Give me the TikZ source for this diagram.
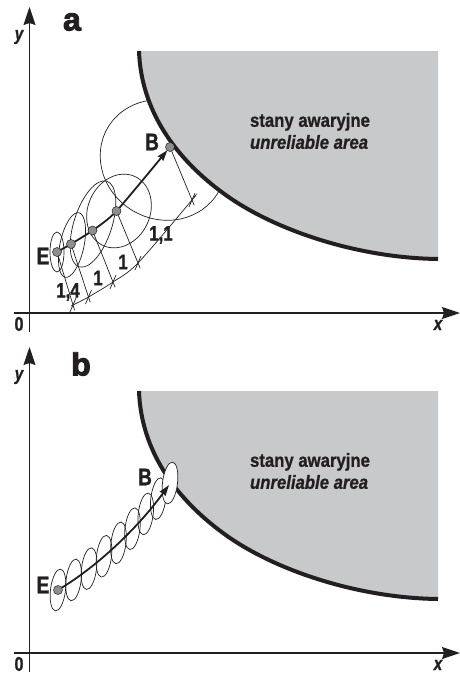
\documentclass[tikz,border=0pt]{standalone}
\usepackage{fontspec}
\setmainfont{Liberation Sans}
\newfontfamily\cond[FakeStretch=0.8,FakeBold=1.2]{Liberation Sans}
\newfontfamily\areafont[FakeStretch=0.88,FakeBold=0.8]{Liberation Sans}
\newfontfamily\heavy[FakeBold=3]{Liberation Sans}
\usetikzlibrary{arrows.meta,calc,shapes.geometric}
\definecolor{ink}{HTML}{231F20}
\definecolor{area}{HTML}{C8C9CB}
\definecolor{dotgray}{HTML}{8C8E90}
\tikzset{
  axisline/.style={line width=1.4pt, draw=ink, -{Stealth[length=18pt,width=12pt,inset=2pt]}},
  bound/.style={line width=4pt, draw=ink},
  thinline/.style={line width=0.7pt, draw=ink},
  dotnode/.style={circle, fill=dotgray, draw=ink, line width=0.5pt, inner sep=0pt, minimum size=9pt},
  traj/.style={line width=1.8pt, draw=ink, -{Stealth[length=11pt,width=7pt,inset=1pt]}},
  lbl/.style={font=\cond\bfseries\fontsize{24}{24}\selectfont, text=ink, inner sep=0pt},
  num/.style={font=\cond\bfseries\fontsize{21}{21}\selectfont, text=ink, inner sep=0pt},
  axlbl/.style={font=\cond\bfseries\itshape\fontsize{19}{19}\selectfont, text=ink, inner sep=0pt},
  zerolbl/.style={font=\cond\bfseries\fontsize{20}{20}\selectfont, text=ink, inner sep=0pt},
  panellbl/.style={font=\heavy\bfseries\fontsize{32}{32}\selectfont, text=ink, inner sep=0pt},
  areatxt/.style={font=\areafont\bfseries\fontsize{19}{22}\selectfont, text=ink, align=left, inner sep=0pt},
  bell/.style={ellipse, draw=ink, line width=0.7pt, minimum width=15pt, minimum height=42pt, inner sep=0pt, rotate=-7},
}
\newcommand{\axesframe}[1]{%
  \draw[axisline] (29.5,332) -- (29.5,7);
  \draw[axisline] (14,313) -- (460,313);
  \node[axlbl] (ylab#1) at (19,37) {y};
  \node[axlbl] (xlab#1) at (438,325) {x};
  \node[zerolbl] (zero#1) at (19,324) {0};
}
\newcommand{\failarea}[1]{%
  \fill[area] (139,51) .. controls (141,110) and (175,160) .. (230,198)
     .. controls (280,232) and (360,258) .. (438,259) -- (438,51) -- cycle;
  \draw[bound] (139,51) .. controls (141,110) and (175,160) .. (230,198)
     .. controls (280,232) and (360,258) .. (438,259);
  \node[areatxt] (txt#1) at (310,131) {stany awaryjne\\\itshape unreliable area};
}
\begin{document}
\begin{tikzpicture}[x=1pt,y=-1pt]
\useasboundingbox (0,0) rectangle (460,675);

% ---------------- panel a ----------------
\begin{scope}
  \axesframe{a}
  \node[panellbl] (la) at (72,22) {a};
  \coordinate (cE) at (57,252);
  \coordinate (c2) at (71,244);
  \coordinate (c3) at (92.5,230.5);
  \coordinate (c4) at (116.5,211);
  \coordinate (cB) at (170,147);
  % ellipses
  \draw[thinline] (cE) ellipse [x radius=7pt, y radius=20pt];
  \draw[thinline, rotate around={-12:(72,245)}] (72,245) ellipse [x radius=12pt, y radius=33pt];
  \draw[thinline, rotate around={-18:(93,224)}] (93,224) ellipse [x radius=19pt, y radius=45pt];
  \draw[thinline, rotate around={-25:(119,211)}] (119,211) ellipse [x radius=31pt, y radius=38pt];
  \draw[thinline, rotate around={-30:(163,160)}] (163,160) ellipse [x radius=64pt, y radius=59pt];
  % dimension lines
  \coordinate (x1) at (73,305);
  \coordinate (x2) at (88.5,297);
  \coordinate (x3) at (113,282);
  \coordinate (x4) at (138,263);
  \coordinate (x5) at (192,200);
  \foreach \p/\q in {cE/x1, c2/x2, c3/x3, c4/x4, cB/x5}{
    \draw[thinline] (\p) -- ($(\p)!1.1!(\q)$);
    \draw[thinline] ($(\q)+(-3,7)$) -- ($(\q)+(3,-7)$);
  }
  \draw[thinline] plot[smooth, tension=0.5] coordinates {(71,306) (x1) (x2) (x3) (x4) (x5) (194,197)};
  \node[num] (n1) at (68,292) {1,4};
  \node[num] (n2) at (98,278) {1};
  \node[num] (n3) at (123,262) {1};
  \node[num] (n4) at (161,235) {1,1};
  \failarea{a}
  \draw[traj, shorten >=4pt] plot[smooth, tension=0.4] coordinates {(cE) (c2) (c3) (c4) (cB)};
  \node[dotnode] (Ea) at (cE) {};
  \node[dotnode] (p2) at (c2) {};
  \node[dotnode] (p3) at (c3) {};
  \node[dotnode] (p4) at (c4) {};
  \node[dotnode] (Ba) at (cB) {};
  \node[lbl] (Ela) at (43,256) {E};
  \node[lbl] (Bla) at (152,142) {B};
\end{scope}

% ---------------- panel b ----------------
\begin{scope}[shift={(0,340)}]
  \axesframe{b}
  \node[panellbl] (lb) at (81,24) {b};
  \failarea{b}
  \coordinate (bE) at (58,250);
  \coordinate (bB) at (170,143);
  \path (bE) .. controls (100,225) and (140,185) .. (bB)
    node[bell, pos=0] (e1) {}
    node[bell, pos=0.125] (e2) {}
    node[bell, pos=0.25] (e3) {}
    node[bell, pos=0.375] (e4) {}
    node[bell, pos=0.5] (e5) {}
    node[bell, pos=0.625] (e6) {}
    node[bell, pos=0.75] (e7) {}
    node[bell, pos=0.875] (e8) {}
    node[bell, pos=1, fill=white] (e9) {};
  \draw[traj] (bE) .. controls (100,225) and (140,185) .. (169,145);
  \node[dotnode] (Eb) at (bE) {};
  \node[lbl] (Elb) at (43,245) {E};
  \node[lbl] (Blb) at (145,137) {B};
\end{scope}
\end{tikzpicture}
\end{document}
